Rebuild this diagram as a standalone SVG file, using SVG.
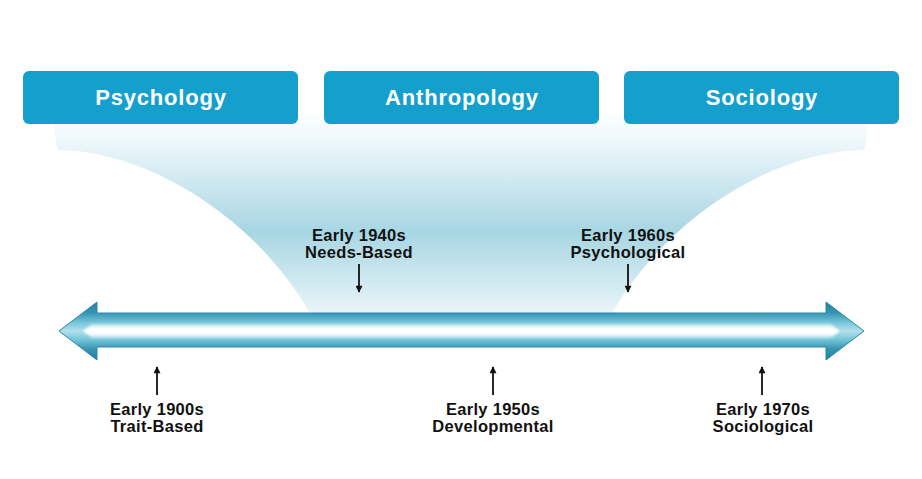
<svg xmlns="http://www.w3.org/2000/svg" width="922" height="479" viewBox="0 0 922 479">
<defs>
<style>
.box{fill:#159fcc}
.title{font-family:"Liberation Sans",Arial,sans-serif;font-weight:bold;font-size:22px;fill:#fff;text-anchor:middle;letter-spacing:0.8px}
.lbl{font-family:"Liberation Sans",Arial,sans-serif;font-weight:bold;font-size:16.5px;fill:#111;text-anchor:middle;letter-spacing:0.3px}
.con{stroke:#111;stroke-width:1.8;fill:none;marker-end:url(#ah)}
</style>
<marker id="ah" viewBox="0 0 10 10" refX="9" refY="5" markerWidth="8" markerHeight="7" markerUnits="userSpaceOnUse" orient="auto">
<path d="M0,0 L10,5 L0,10 Z" fill="#111"/>
</marker>
<linearGradient id="funnel" gradientUnits="userSpaceOnUse" x1="0" y1="110" x2="0" y2="313">
<stop offset="0" stop-color="#ffffff"/>
<stop offset="0.15" stop-color="#eef8fb"/>
<stop offset="0.6" stop-color="#a7d6e3"/>
<stop offset="1" stop-color="#eaf5f9"/>
</linearGradient>
<linearGradient id="shaft" gradientUnits="userSpaceOnUse" x1="0" y1="302" x2="0" y2="360">
<stop offset="0" stop-color="#237f9f"/>
<stop offset="0.19" stop-color="#3795b3"/>
<stop offset="0.36" stop-color="#78c6da"/>
<stop offset="0.5" stop-color="#b2e0eb"/>
<stop offset="0.64" stop-color="#78c6da"/>
<stop offset="0.81" stop-color="#3795b3"/>
<stop offset="1" stop-color="#237f9f"/>
</linearGradient>
<linearGradient id="hl" gradientUnits="userSpaceOnUse" x1="0" y1="324" x2="0" y2="338">
<stop offset="0" stop-color="#bfe6ef"/>
<stop offset="0.35" stop-color="#ffffff"/>
<stop offset="0.65" stop-color="#ffffff"/>
<stop offset="1" stop-color="#bfe6ef"/>
</linearGradient>
<filter id="glow" x="-5%" y="-50%" width="110%" height="200%">
<feGaussianBlur stdDeviation="1"/>
</filter>
</defs>
<rect width="922" height="479" fill="#fff"/>
<path id="funnel-shape" d="M53,110 L869,110 L869,124 L864,150 C782,150 672,210 612,313 L310,313 C250,210 140,150 58,150 L53,124 Z" fill="url(#funnel)"/>
<g id="timeline-arrow">
<path d="M59,331 L97,302 L97,313 L826,313 L826,302 L864,331 L826,360 L826,347 L97,347 L97,360 Z" fill="url(#shaft)" stroke="#2b88a8" stroke-width="1"/>
<path d="M82,331 L92,324 L831,324 L841,331 L831,338 L92,338 Z" fill="url(#hl)" stroke="#8fd2e2" stroke-width="1" filter="url(#glow)"/>
</g>
<g id="psychology"><rect class="box" x="23" y="71" width="275" height="53" rx="6"/><text class="title" x="161" y="105">Psychology</text></g>
<g id="anthropology"><rect class="box" x="324" y="71" width="275" height="53" rx="6"/><text class="title" x="462" y="105">Anthropology</text></g>
<g id="sociology"><rect class="box" x="624" y="71" width="275" height="53" rx="6"/><text class="title" x="762" y="105">Sociology</text></g>
<g id="e1940"><text class="lbl" x="359" y="241">Early 1940s</text><text class="lbl" x="359" y="258">Needs-Based</text></g>
<g id="e1960"><text class="lbl" x="628" y="241">Early 1960s</text><text class="lbl" x="628" y="258">Psychological</text></g>
<g id="e1900"><text class="lbl" x="157" y="415">Early 1900s</text><text class="lbl" x="157" y="432">Trait-Based</text></g>
<g id="e1950"><text class="lbl" x="493" y="415">Early 1950s</text><text class="lbl" x="493" y="432">Developmental</text></g>
<g id="e1970"><text class="lbl" x="763" y="415">Early 1970s</text><text class="lbl" x="763" y="432">Sociological</text></g>
<g id="connectors">
<path class="con" d="M359,264 L359,292"/>
<path class="con" d="M628,264 L628,292"/>
<path class="con" d="M157,395 L157,367"/>
<path class="con" d="M493,395 L493,367"/>
<path class="con" d="M762,395 L762,367"/>
</g>
</svg>
